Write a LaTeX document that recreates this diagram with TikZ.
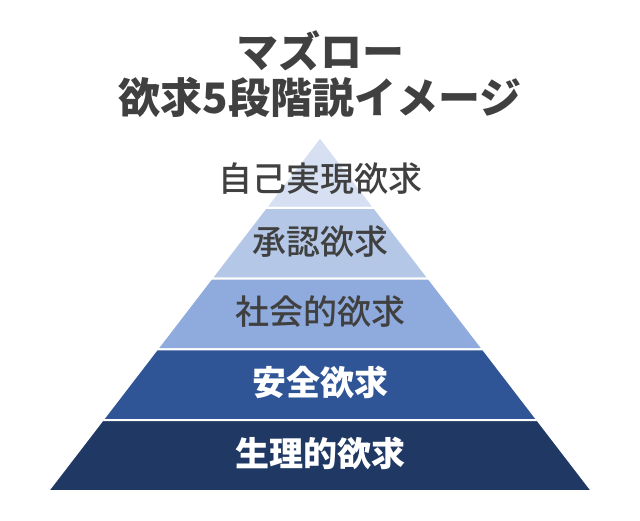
\documentclass[tikz,border=0pt]{standalone}
\usepackage{fontspec}
\setmainfont{Noto Sans CJK JP}
\newfontfamily\medfont{Noto Sans CJK JP Medium}
\usetikzlibrary{positioning}
\definecolor{textgray}{HTML}{404040}
\definecolor{lvlone}{HTML}{D6E0F2}
\definecolor{lvltwo}{HTML}{B4C7E7}
\definecolor{lvlthree}{HTML}{8FAADC}
\definecolor{lvlfour}{HTML}{2F5597}
\definecolor{lvlfive}{HTML}{203864}

\begin{document}
\begin{tikzpicture}[x=1pt, y=-1pt,
    title/.style={font=\fontsize{42}{46}\selectfont\bfseries, text=textgray, align=center, inner sep=0pt},
    lab/.style={font=\fontsize{34}{38}\selectfont#1, inner sep=0pt}]
    \useasboundingbox (0,0) rectangle (640,520);
    \node[title] (title) at (320,74) {マズロー\\欲求5段階説イメージ};
    % layers from the apex down
    \foreach \i/\col/\txt/\tcol/\fw/\ty in {%
      1/lvlone/自己実現欲求/textgray/\medfont/179,
      2/lvltwo/承認欲求/textgray/\medfont/242,
      3/lvlthree/社会的欲求/textgray/\medfont/312,
      4/lvlfour/安全欲求/white/\bfseries/382,
      5/lvlfive/生理的欲求/white/\bfseries/453%
    } {
      \pgfmathsetmacro\ytop{137+(\i-1)*70.8}
      \pgfmathsetmacro\ybot{137+\i*70.8}
      \pgfmathsetmacro\wtop{(272/354)*(\ytop-137)}
      \pgfmathsetmacro\wbot{(272/354)*(\ybot-137)}
      \filldraw[fill=\col, draw=white, line width=2pt] (320-\wtop,\ytop) -- (320+\wtop,\ytop)
        -- (320+\wbot,\ybot) -- (320-\wbot,\ybot) -- cycle;
      \node[lab=\fw, text=\tcol] (lvl\i) at (320,\ty) {\txt};
    }
  \end{tikzpicture}
\end{document}
